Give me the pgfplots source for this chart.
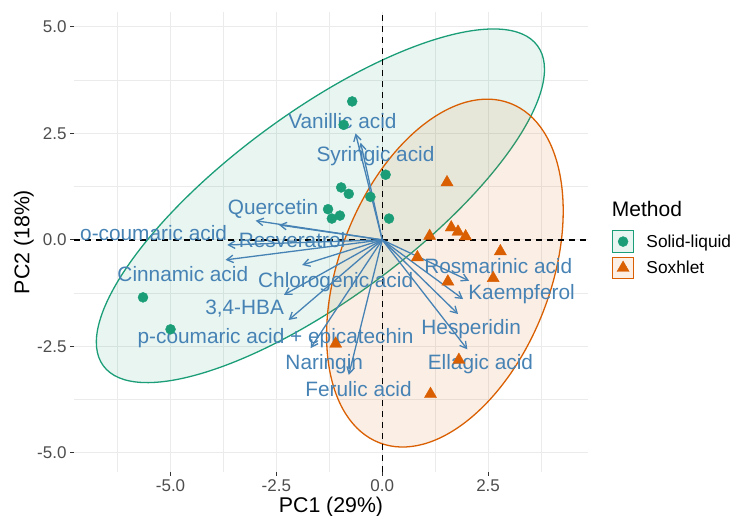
\documentclass[border=0pt]{standalone}
\usepackage{pgfplots}
\pgfplotsset{compat=1.18}
\usepackage{fontspec}
\setmainfont{Liberation Sans}
\usetikzlibrary{arrows.meta}

\definecolor{cgreen}{HTML}{1B9E77}
\definecolor{corange}{HTML}{D95F02}
\definecolor{cblue}{HTML}{4682B4}
\definecolor{cgrid}{HTML}{EBEBEB}
\definecolor{ctick}{HTML}{4D4D4D}

\pgfplotsset{
  boxkey/.style={legend image code/.code={%
      \draw[line width=1.2bp, draw=#1, fill=#1!10] (0bp,-10.8bp) rectangle (21.6bp,10.8bp);
      \draw[##1] plot coordinates {(10.8bp,0bp)};}},
}

\begin{document}
\begin{tikzpicture}[x=1bp,y=1bp]
\useasboundingbox (0,0) rectangle (735,516);
\begin{axis}[
    at={(74bp,44bp)}, anchor=south west,
    scale only axis, width=514bp, height=460bp,
    xmin=-7.28, xmax=4.86, ymin=-5.45, ymax=5.35,
    axis x line*=bottom, axis y line*=left,
    axis line style={draw=none},
    xtick={-5,-2.5,0,2.5}, ytick={-5,-2.5,0,2.5,5},
    minor xtick={-6.25,-3.75,-1.25,1.25,3.75},
    minor ytick={-3.75,-1.25,1.25,3.75},
    grid=both,
    major grid style={cgrid, line width=1.1bp},
    minor grid style={cgrid, line width=0.6bp},
    tick align=outside, major tick length=4bp, minor tick length=0pt,
    tick style={draw=black!80, line width=0.9bp},
    ticklabel style={font=\fontsize{17bp}{20bp}\selectfont, text=ctick},
    /pgf/number format/assume math mode=true,
    /pgf/number format/.cd, fixed, fixed zerofill, precision=1, /pgfplots/.cd,
    xlabel={PC1 (29\%)}, ylabel={PC2 (18\%)},
    label style={font=\fontsize{21.3bp}{24bp}\selectfont},
    xlabel style={at={(axis description cs:0.5,-0.0891)}, anchor=base},
    ylabel style={at={(axis description cs:-0.0870,0.5)}, anchor=base},
    legend cell align=left,
    legend style={at={(axis description cs:1.0457,0.5261)}, anchor=north west,
        draw=none, fill=none, inner sep=0pt, row sep=3.6bp,
        font=\fontsize{17.3bp}{20bp}\selectfont,
        /tikz/every odd column/.append style={column sep=10bp}},
]
% confidence ellipses
\draw[cgreen, line width=1.3bp, fill=cgreen, fill opacity=0.1,
      rotate around={36.4:(axis cs:-1.46,0.80)}]
      (axis cs:-1.46,0.80) ellipse [x radius=269.7bp, y radius=93.3bp];
\draw[corange, line width=1.3bp, fill=corange, fill opacity=0.1,
      rotate around={68.9:(axis cs:1.48,-0.78)}]
      (axis cs:1.48,-0.78) ellipse [x radius=181.9bp, y radius=105.6bp];

% reference lines
\addplot[forget plot, black, line width=1.4bp, dash pattern=on 5.5bp off 5.5bp]
  coordinates {(-7.28,0) (4.86,0)};
\addplot[forget plot, black, line width=1.4bp, dash pattern=on 5.5bp off 5.5bp]
  coordinates {(0,-5.45) (0,5.35)};

% individuals
\addplot[only marks, mark=*, mark size=5bp, cgreen, boxkey=cgreen] table {
x y
-0.71 3.25
-0.91 2.70
-0.97 1.23
-0.79 1.08
-0.28 1.01
-1.28 0.72
-1.19 0.50
-1.00 0.57
0.08 1.53
0.16 0.50
-5.65 -1.35
-5.00 -2.10
};
\addlegendentry{Solid-liquid}
\addplot[only marks, mark=triangle*, mark size=7bp, corange, boxkey=corange] table {
x y
1.53 1.35
1.63 0.29
1.79 0.19
1.97 0.08
1.12 0.09
2.79 -0.27
0.83 -0.41
1.55 -0.98
2.62 -0.90
1.81 -2.82
1.14 -3.62
-1.10 -2.44
};
\addlegendentry{Soxhlet}

% variable loadings
\addplot[forget plot, cblue, line width=1.3bp,
    -{Straight Barb[length=6.5bp,width=7.5bp]},
    quiver={u=\thisrow{u}, v=\thisrow{v}}] table {
x y u v
0 0 -0.63 2.50
0 0 -0.51 2.28
0 0 -2.99 0.45
0 0 -2.44 0.35
0 0 -3.66 -0.12
0 0 -3.70 -0.47
0 0 -1.89 -0.59
0 0 -2.32 -1.29
0 0 -2.21 -1.88
0 0 -1.69 -2.54
0 0 -0.79 -3.17
0 0 2.05 -0.96
0 0 1.91 -1.39
0 0 1.79 -1.74
0 0 2.01 -2.57
};

\begin{scope}[every node/.style={font=\fontsize{20.8bp}{24bp}\selectfont, text=cblue, anchor=base, inner sep=0pt}]
\node at (axis cs:-0.94,2.62) {Vanillic acid};
\node at (axis cs:-0.16,1.84) {Syringic acid};
\node at (axis cs:-2.58,0.59) {Quercetin};
\node at (axis cs:-5.40,-0.02) {o-coumaric acid};
\node at (axis cs:-2.13,-0.18) {Resveratrol};
\node at (axis cs:-4.71,-0.98) {Cinnamic acid};
\node at (axis cs:-1.10,-1.11) {Chlorogenic acid};
\node at (axis cs:-3.25,-1.76) {3,4-HBA};
\node at (axis cs:-2.52,-2.43) {p-coumaric acid + epicatechin};
\node at (axis cs:-1.37,-3.04) {Naringin};
\node at (axis cs:-0.56,-3.68) {Ferulic acid};
\node at (axis cs:2.74,-0.78) {Rosmarinic acid};
\node at (axis cs:3.29,-1.41) {Kaempferol};
\node at (axis cs:2.10,-2.23) {Hesperidin};
\node at (axis cs:2.32,-3.05) {Ellagic acid};
\end{scope}
\end{axis}
\node[anchor=base west, inner sep=0pt, font=\fontsize{21bp}{24bp}\selectfont] at (611.7,299) {Method};
\end{tikzpicture}
\end{document}
